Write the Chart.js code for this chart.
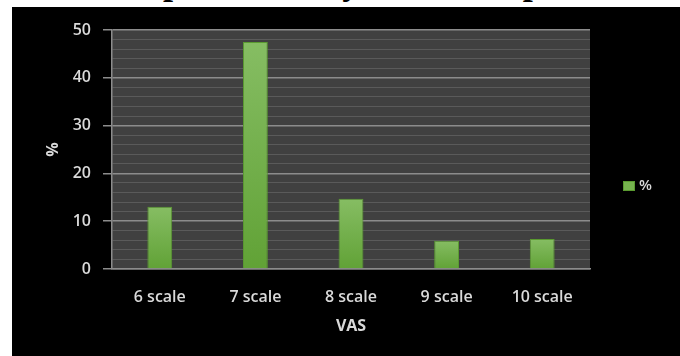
<!DOCTYPE html>
<html>
<head>
<meta charset="utf-8">
<script src="https://cdn.jsdelivr.net/npm/chart.js@4/dist/chart.umd.min.js"></script>
<style>
  html, body { margin: 0; padding: 0; background: #fff; }
  body { width: 680px; height: 356px; position: relative; overflow: hidden; }
  #title {
    position: absolute; left: 0; width: 692px; top: -39px;
    text-align: center; font: bold 36px "Liberation Serif", serif; color: #000;
    white-space: nowrap;
  }
  #box { position: absolute; left: 12px; top: 7px; width: 668px; height: 349px; background: #000; }
</style>
</head>
<body>
<div id="title">Graph: Intensity of VAS at pain</div>
<div id="box"><canvas id="vasChart" width="668" height="349"></canvas></div>
<script>
var categories = ["6 scale", "7 scale", "8 scale", "9 scale", "10 scale"];
var percent = [13, 47.5, 14.7, 5.9, 6.3];
var seriesName = "%";

var tickFont = { family: "Open Sans", size: 16, weight: "600" };
var tickColor = "#d9d9d9";

// dark plot background with the legend drawn at the right
var plotBackground = {
    id: "plotBackground",
    beforeDraw: function (chart) {
        var a = chart.chartArea, c = chart.ctx;
        c.save();
        c.fillStyle = "#404040";
        c.fillRect(a.left, a.top, a.right - a.left, a.bottom - a.top);
        c.restore();
    },
    afterDraw: function (chart) {
        var c = chart.ctx;
        c.save();
        c.fillStyle = "#76b34e";
        c.strokeStyle = "#5a9a30";
        c.fillRect(611, 174, 12, 10);
        c.strokeRect(611.5, 174.5, 11, 9);
        c.fillStyle = tickColor;
        c.font = "600 15px 'Open Sans'";
        c.textBaseline = "middle";
        c.fillText(chart.data.datasets[0].label, 627, 179);
        c.restore();
    }
};

function barFill(context) {
    var chart = context.chart;
    if (!chart.chartArea) return "#72ad4a";
    var y = chart.scales.y;
    var top = y.getPixelForValue(context.raw);
    var bottom = y.getPixelForValue(0);
    var g = chart.ctx.createLinearGradient(0, top, 0, bottom);
    g.addColorStop(0, "#86bd63");
    g.addColorStop(1, "#61a236");
    return g;
}

new Chart(document.getElementById("vasChart"), {
    type: "bar",
    data: {
        labels: categories,
        datasets: [{
            label: seriesName,
            data: percent,
            backgroundColor: barFill,
            borderColor: "#5a9a30",
            borderWidth: 1,
            barPercentage: 0.26,
            categoryPercentage: 1
        }]
    },
    options: {
        responsive: false,
        animation: false,
        layout: { padding: { top: 23, right: 90, left: 0, bottom: 0 } },
        plugins: { legend: { display: false }, tooltip: { enabled: false } },
        scales: {
            x: {
                grid: { display: false, drawTicks: false },
                border: { color: "#8c8c8c", width: 1.5 },
                ticks: { color: tickColor, font: tickFont, padding: 19 },
                title: {
                    display: true, text: "VAS", color: tickColor,
                    font: { family: "Open Sans", size: 16, weight: "bold" },
                    padding: { top: 0, bottom: 20 }
                },
                afterFit: function (scale) { scale.height = 87; }
            },
            y: {
                min: 0,
                max: 50,
                ticks: {
                    stepSize: 2,
                    autoSkip: false,
                    color: tickColor,
                    font: tickFont,
                    padding: 12,
                    callback: function (v) { return v % 10 === 0 ? v : ""; }
                },
                grid: {
                    color: function (ctx) {
                        return ctx.tick && ctx.tick.value % 10 === 0 ? "#8c8c8c" : "#5a5a5a";
                    },
                    lineWidth: function (ctx) {
                        return ctx.tick && ctx.tick.value % 10 === 0 ? 1.5 : 1;
                    },
                    tickColor: function (ctx) {
                        return ctx.tick && ctx.tick.value % 10 === 0 ? "#8c8c8c" : "rgba(0,0,0,0)";
                    },
                    tickLength: 9
                },
                border: { color: "#8c8c8c", width: 1.5 },
                title: {
                    display: true, text: "%", color: tickColor,
                    font: { family: "Open Sans", size: 16, weight: "bold" },
                    padding: { top: 32, bottom: 0 }
                },
                afterFit: function (scale) { scale.width = 100; }
            }
        }
    },
    plugins: [plotBackground]
});
</script>
</body>
</html>
